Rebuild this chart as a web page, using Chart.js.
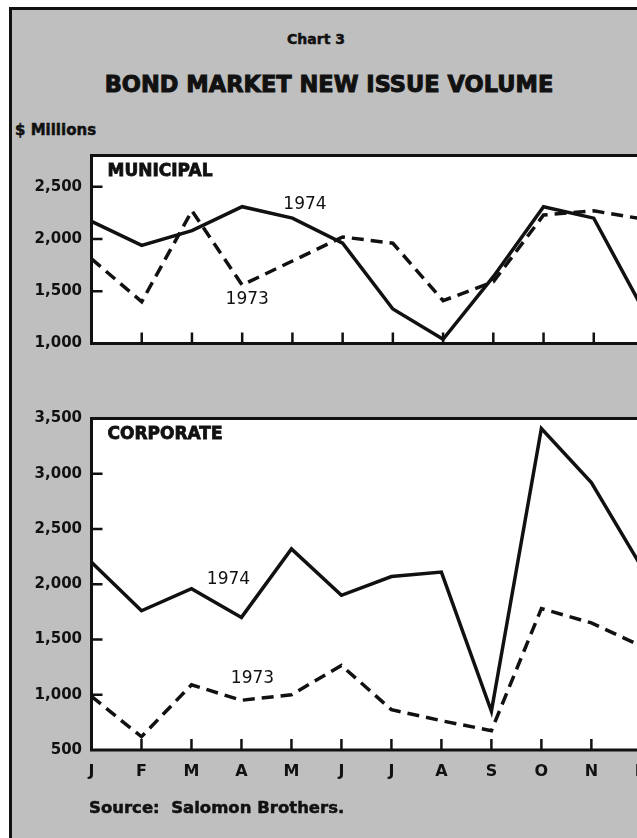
<!DOCTYPE html>
<html>
<head>
<meta charset="utf-8">
<script src="https://cdn.jsdelivr.net/npm/chart.js@4.4.1/dist/chart.umd.min.js"></script>
<style>
  html, body { margin: 0; padding: 0; width: 637px; height: 838px; overflow: hidden; background: #fff; }
  #frame { position: absolute; left: 9px; top: 7px; width: 660px; height: 860px; background: #bfbfbf;
           border-left: 3px solid #111; border-top: 3px solid #111; }
  .txt { position: absolute; font-family: "DejaVu Sans", sans-serif; font-weight: bold; color: #111;
         white-space: nowrap; -webkit-text-stroke: 0.5px #111; }
  canvas { position: absolute; left: 0; }
</style>
</head>
<body>
<div id="frame"></div>
<div class="txt" style="left:0;width:632px;text-align:center;top:31px;font-size:14px;">Chart 3</div>
<div class="txt" style="left:0;width:658px;text-align:center;top:71px;font-size:22.5px;-webkit-text-stroke:1px #111;">BOND MARKET NEW ISSUE VOLUME</div>
<div class="txt" style="left:15px;top:121px;font-size:15px;">$ Millions</div>
<canvas id="muni" width="660" height="225" style="top:137px"></canvas>
<canvas id="corp" width="660" height="420" style="top:400px"></canvas>
<div class="txt" style="left:89px;top:798px;font-size:16.5px;">Source:&nbsp; Salomon Brothers.</div>
<script>
// months along the bottom
const months = ['J', 'F', 'M', 'A', 'M', 'J', 'J', 'A', 'S', 'O', 'N', 'D'];

// municipal new issues, $ millions
const muni1974 = [2170, 1940, 2080, 2310, 2200, 1960, 1330, 1040, 1640, 2310, 2200, 1310];
const muni1973 = [1810, 1400, 2270, 1560, 1790, 2020, 1960, 1410, 1590, 2230, 2270, 2190];
const muniTicks = [1000, 1500, 2000, 2500];

// corporate new issues, $ millions
const corp1974 = [2200, 1760, 1960, 1700, 2320, 1900, 2070, 2110, 850, 3410, 2920, 2160];
const corp1973 = [985, 620, 1090, 950, 1000, 1265, 865, 765, 675, 1780, 1650, 1440];
const corpTicks = [500, 1000, 1500, 2000, 2500, 3000, 3500];

const FONT = '"DejaVu Sans", sans-serif';
const INK = '#111';

// white plot box, inward tick marks, panel name and series notes
const panelPlugin = {
  id: 'panel',
  beforeDraw(chart) {
    const { ctx, chartArea: a } = chart;
    ctx.save();
    ctx.fillStyle = '#fff';
    ctx.fillRect(a.left, a.top, a.right - a.left, a.bottom - a.top);
    ctx.restore();
  },
  afterDatasetsDraw(chart, args, opts) {
    const { ctx, chartArea: a, scales: { x, y } } = chart;
    ctx.save();
    ctx.strokeStyle = INK;
    ctx.lineWidth = 3;
    ctx.strokeRect(a.left, a.top, a.right - a.left, a.bottom - a.top);
    ctx.lineWidth = 2.5;
    ctx.beginPath();
    for (let i = 1; i < months.length; i++) {
      const px = x.getPixelForTick(i);
      ctx.moveTo(px, a.bottom);
      ctx.lineTo(px, a.bottom - 11);
    }
    y.ticks.forEach(t => {
      if (t.value > y.min && t.value < y.max) {
        const py = y.getPixelForValue(t.value);
        ctx.moveTo(a.left, py);
        ctx.lineTo(a.left + 11, py);
      }
    });
    ctx.stroke();

    ctx.fillStyle = INK;
    ctx.textBaseline = 'middle';
    ctx.textAlign = 'left';
    ctx.font = 'bold 17px ' + FONT;
    ctx.lineWidth = 0.8;
    ctx.fillText(opts.title, a.left + 16, a.top + 16);
    ctx.strokeText(opts.title, a.left + 16, a.top + 16);

    ctx.textAlign = 'center';
    ctx.font = '17px ' + FONT;
    opts.notes.forEach(n => {
      ctx.fillText(n.text, x.getPixelForValue(n.at), y.getPixelForValue(n.value));
    });
    ctx.restore();
  }
};

function makePanel(id, v1974, v1973, yMin, yMax, yTicks, showMonths, xHeight, title, notes) {
  new Chart(document.getElementById(id), {
    type: 'line',
    data: {
      labels: months,
      datasets: [
        { label: '1974', data: v1974, borderColor: INK, borderWidth: 3.5, pointRadius: 0,
          tension: 0, borderJoinStyle: 'miter', borderCapStyle: 'butt' },
        { label: '1973', data: v1973, borderColor: INK, borderWidth: 3.5, pointRadius: 0,
          tension: 0, borderDash: [12, 7], borderJoinStyle: 'miter', borderCapStyle: 'butt' }
      ]
    },
    options: {
      responsive: false,
      animation: false,
      devicePixelRatio: 1,
      layout: { padding: { top: 10, right: 16, left: 0, bottom: 0 } },
      plugins: {
        legend: { display: false },
        tooltip: { enabled: false },
        panel: { title: title, notes: notes }
      },
      scales: {
        x: {
          type: 'category',
          offset: false,
          grid: { display: false, drawTicks: false },
          border: { display: false },
          ticks: { display: showMonths, autoSkip: false, maxRotation: 0, padding: 12, color: INK,
                   font: { family: FONT, size: 16, weight: 'bold' } },
          afterFit: s => { s.height = xHeight; }
        },
        y: {
          min: yMin,
          max: yMax,
          grid: { display: false, drawTicks: false },
          border: { display: false },
          afterBuildTicks: s => { s.ticks = yTicks.map(v => ({ value: v })); },
          ticks: { padding: 9.5, color: INK, font: { family: FONT, size: 15, weight: 'bold' },
                   callback: v => v.toLocaleString('en-US') },
          afterFit: s => { s.width = 91.5; }
        }
      }
    },
    plugins: [panelPlugin]
  });
}

makePanel('muni', muni1974, muni1973, 1000, 2800, muniTicks, false, 12, 'MUNICIPAL', [
  { text: '1974', at: 4.25, value: 2330 },
  { text: '1973', at: 3.1, value: 1420 }
]);

makePanel('corp', corp1974, corp1973, 500, 3500, corpTicks, true, 70, 'CORPORATE', [
  { text: '1974', at: 2.74, value: 2040 },
  { text: '1973', at: 3.22, value: 1145 }
]);
</script>
</body>
</html>
